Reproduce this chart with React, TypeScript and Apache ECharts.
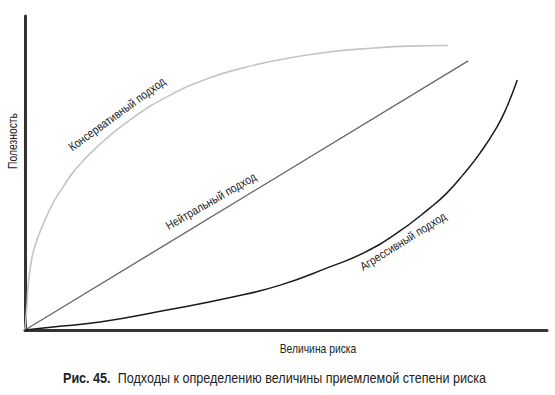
import React, { useEffect, useRef } from "react";
import * as echarts from "echarts";

// x: величина риска (0..100), y: полезность (0..100)
const conservativeX = [0, 0.38, 0.57, 0.96, 1.53, 2.49, 3.83, 5.36, 7.28, 9.58, 13.8, 20.1, 27.8, 35.4, 42.1, 48.9, 57.5, 67.0, 73.4, 81.0];
const conservativeY = [0, 8.0, 13.7, 19.1, 24.5, 29.6, 35.0, 40.4, 45.5, 51.0, 58.3, 66.9, 74.8, 80.3, 83.6, 86.1, 88.4, 89.8, 90.4, 90.6];

const neutralX = [0, 84.9];
const neutralY = [0, 85.7];

const aggressiveX = [0, 5.36, 14.37, 27.2, 39.8, 48.9, 58.4, 64.8, 71.3, 77.6, 80.8, 83.9, 87.2, 90.4, 92.3, 94.3];
const aggressiveY = [0, 0.96, 2.55, 6.37, 10.5, 14.3, 20.1, 24.5, 30.9, 38.9, 43.6, 49.4, 56.4, 64.6, 71.0, 79.6];

const seriesNames = ["Консервативный подход", "Нейтральный подход", "Агрессивный подход"];
// label anchors (data coords) and rotation in degrees
const labelX = [17.6, 35.6, 72.4];
const labelY = [68.8, 41.1, 28.3];
const labelRot = [36, 30, 32];

const xTitle = "Величина риска";
const yTitle = "Полезность";
const captionBold = "Рис. 45.";
const captionText = "Подходы к определению величины приемлемой степени риска";

const FONT = "'Liberation Sans', Arial, sans-serif";
const NARROW = 0.86;

const zip = (xs: number[], ys: number[]) => xs.map((x, i) => [x, ys[i]]);

export default function App() {
  const ref = useRef<HTMLDivElement>(null);
  useEffect(() => {
    if (!ref.current) return;
    const chart = echarts.init(ref.current, null, { renderer: "svg" });
    chart.setOption({
      animation: false,
      backgroundColor: "#fff",
      grid: { left: 25, right: 8, top: 16, bottom: 65 },
      xAxis: {
        type: "value",
        min: 0,
        max: 100,
        axisLine: { show: true, lineStyle: { color: "#333", width: 3 } },
        axisTick: { show: false },
        axisLabel: { show: false },
        splitLine: { show: false },
      },
      yAxis: {
        type: "value",
        min: 0,
        max: 100,
        axisLine: { show: true, lineStyle: { color: "#333", width: 3 } },
        axisTick: { show: false },
        axisLabel: { show: false },
        splitLine: { show: false },
      },
      series: [
        {
          name: seriesNames[0],
          type: "line",
          data: zip(conservativeX, conservativeY),
          smooth: 0.5,
          symbol: "none",
          lineStyle: { color: "#c4c4c4", width: 1.6 },
        },
        {
          name: seriesNames[1],
          type: "line",
          data: zip(neutralX, neutralY),
          symbol: "none",
          lineStyle: { color: "#6a6a6a", width: 1.4 },
        },
        {
          name: seriesNames[2],
          type: "line",
          data: zip(aggressiveX, aggressiveY),
          smooth: 0.5,
          symbol: "none",
          lineStyle: { color: "#1a1a1a", width: 1.5 },
        },
      ],
    });

    const labels = seriesNames.map((name, i) => {
      const p = chart.convertToPixel({ gridIndex: 0 }, [labelX[i], labelY[i]]) as number[];
      return {
        type: "text",
        x: p[0],
        y: p[1],
        rotation: (labelRot[i] * Math.PI) / 180,
        scaleX: NARROW,
        style: {
          text: name,
          fontFamily: FONT,
          fontSize: 12,
          fill: "#222",
          align: "center",
          verticalAlign: "middle",
        },
      };
    });

    chart.setOption({
      graphic: [
        ...labels,
        {
          type: "text",
          x: 318,
          y: 349,
          scaleX: NARROW,
          style: {
            text: xTitle,
            fontFamily: FONT,
            fontSize: 12,
            fill: "#222",
            align: "center",
            verticalAlign: "middle",
          },
        },
        {
          type: "text",
          x: 13,
          y: 141,
          rotation: Math.PI / 2,
          scaleX: NARROW,
          style: {
            text: yTitle,
            fontFamily: FONT,
            fontSize: 12,
            fill: "#222",
            align: "center",
            verticalAlign: "middle",
          },
        },
        {
          type: "text",
          x: 63,
          y: 378,
          scaleX: 0.9,
          style: {
            text: `{b|${captionBold}}  ${captionText}`,
            fontFamily: FONT,
            fontSize: 14,
            fill: "#222",
            align: "left",
            verticalAlign: "middle",
            rich: {
              b: { fontFamily: FONT, fontSize: 14, fontWeight: "bold", fill: "#222" },
            },
          },
        },
      ],
    });

    return () => chart.dispose();
  }, []);
  return <div ref={ref} style={{ width: 555, height: 395, position: "absolute", left: 0, top: 0 }} />;
}
